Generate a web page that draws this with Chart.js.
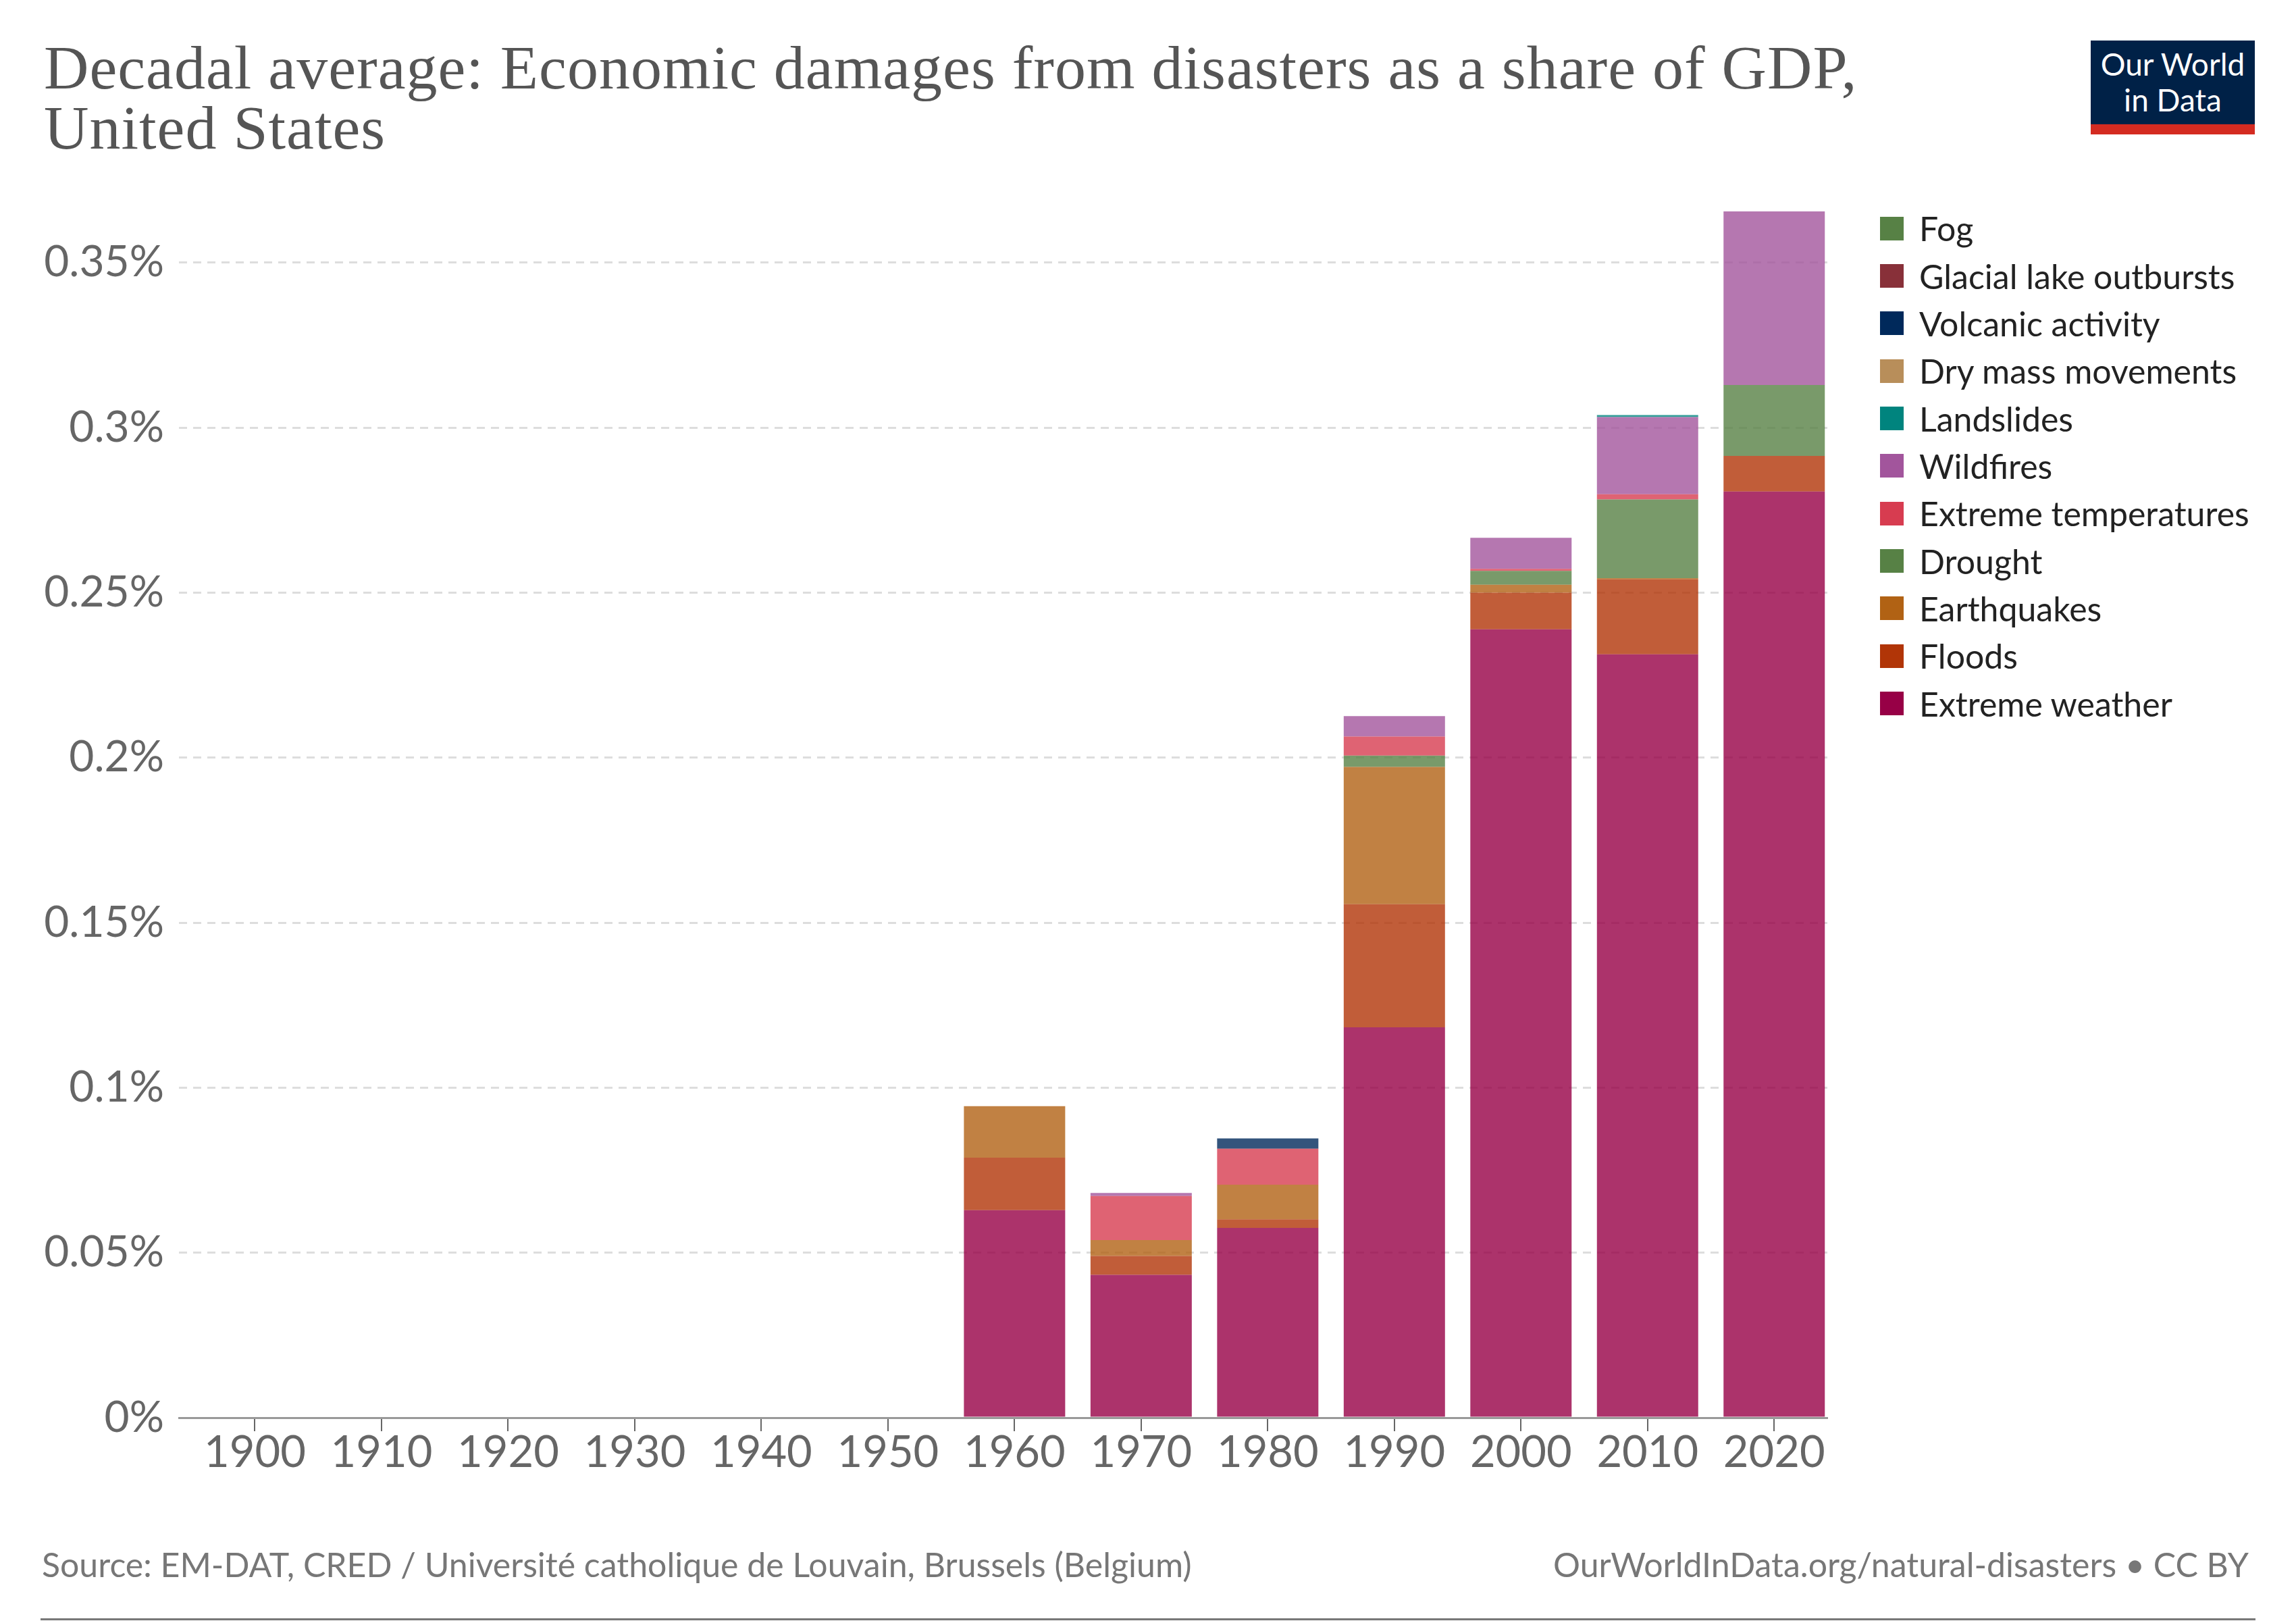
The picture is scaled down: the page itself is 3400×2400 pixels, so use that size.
<!DOCTYPE html>
<html>
<head>
<meta charset="utf-8">
<script src="https://cdn.jsdelivr.net/npm/chart.js@4.4.1/dist/chart.umd.min.js"></script>
<style>
  body { margin: 0; background: #fff; }
  #wrap { position: relative; width: 3400px; height: 2400px; background: #fff; font-family: Lato, sans-serif; }
  #chart { position: absolute; left: 0; top: 0; }
  .title { position: absolute; left: 65px; top: 56px; font-family: "Liberation Serif", serif; font-size: 92px; letter-spacing: 1px; line-height: 89px; color: #555; white-space: nowrap; }
  .logo { position: absolute; left: 3096px; top: 60px; width: 243px; background: #002147; color: #fff; text-align: center; font-size: 46px; line-height: 53px; padding-top: 8px; box-sizing: border-box; border-bottom: 15px solid #d42b21; height: 139px; }
  .legend { position: absolute; left: 2784px; top: 303px; }
  .legend-row { display: flex; align-items: center; height: 70.35px; font-size: 50px; color: #222; white-space: nowrap; }
  .legend-box { width: 35px; height: 35px; margin-right: 23px; }
  .source { position: absolute; left: 62px; top: 2286px; font-size: 50px; color: #777; white-space: nowrap; }
  .url { position: absolute; right: 70px; top: 2286px; font-size: 50px; color: #777; white-space: nowrap; }
  .rule { position: absolute; left: 60px; top: 2396px; width: 3280px; height: 3px; background: #777; }
</style>
</head>
<body>
<div id="wrap">
  <canvas id="chart" width="3400" height="2400"></canvas>
  <div class="title">Decadal average: Economic damages from disasters as a share of GDP,<br>United States</div>
  <div class="logo">Our World<br>in Data</div>
  <div class="legend" id="legend"></div>
  <div class="source">Source: EM-DAT, CRED / Université catholique de Louvain, Brussels (Belgium)</div>
  <div class="url">OurWorldInData.org/natural-disasters • CC BY</div>
  <div class="rule"></div>
</div>
<script>
// decades on the x axis
const years = [1900, 1910, 1920, 1930, 1940, 1950, 1960, 1970, 1980, 1990, 2000, 2010, 2020];
const xTickLabels = ['1900', '1910', '1920', '1930', '1940', '1950', '1960', '1970', '1980', '1990', '2000', '2010', '2020'];
const yTickValues = [0, 0.05, 0.1, 0.15, 0.2, 0.25, 0.3, 0.35];
const yTickLabels = ['0%', '0.05%', '0.1%', '0.15%', '0.2%', '0.25%', '0.3%', '0.35%'];

// damages as % of GDP, per decade
const extremeWeather = [0, 0, 0, 0, 0, 0, 0.0629, 0.0433, 0.0575, 0.1183, 0.2389, 0.2313, 0.2806];
const floods = [0, 0, 0, 0, 0, 0, 0.0159, 0.0057, 0.0026, 0.0373, 0.0111, 0.0227, 0.0108];
const earthquakes = [0, 0, 0, 0, 0, 0, 0.0156, 0.0048, 0.0105, 0.0416, 0.0024, 0.0004, 0];
const drought = [0, 0, 0, 0, 0, 0, 0, 0, 0, 0.0034, 0.0042, 0.0238, 0.0215];
const extremeTemperatures = [0, 0, 0, 0, 0, 0, 0, 0.0134, 0.0109, 0.0058, 0.0006, 0.0016, 0];
const wildfires = [0, 0, 0, 0, 0, 0, 0, 0.0009, 0, 0.0062, 0.0094, 0.0234, 0.0526];
const landslides = [0, 0, 0, 0, 0, 0, 0, 0, 0, 0, 0, 0.0006, 0];
const dryMassMovements = [0, 0, 0, 0, 0, 0, 0, 0, 0, 0, 0, 0, 0];
const volcanicActivity = [0, 0, 0, 0, 0, 0, 0, 0, 0.0031, 0, 0, 0, 0];
const glacialLakeOutbursts = [0, 0, 0, 0, 0, 0, 0, 0, 0, 0, 0, 0, 0];
const fog = [0, 0, 0, 0, 0, 0, 0, 0, 0, 0, 0, 0, 0];

// bottom of the stack first
const series = [
    { name: 'Extreme weather', color: '#970046', values: extremeWeather },
    { name: 'Floods', color: '#b13507', values: floods },
    { name: 'Earthquakes', color: '#b16214', values: earthquakes },
    { name: 'Drought', color: '#578145', values: drought },
    { name: 'Extreme temperatures', color: '#d73c50', values: extremeTemperatures },
    { name: 'Wildfires', color: '#a2559c', values: wildfires },
    { name: 'Landslides', color: '#00847e', values: landslides },
    { name: 'Dry mass movements', color: '#b88e5a', values: dryMassMovements },
    { name: 'Volcanic activity', color: '#00295b', values: volcanicActivity },
    { name: 'Glacial lake outbursts', color: '#883039', values: glacialLakeOutbursts },
    { name: 'Fog', color: '#578145', values: fog }
];

function withAlpha(hex, a) {
    const n = parseInt(hex.slice(1), 16);
    return `rgba(${(n >> 16) & 255}, ${(n >> 8) & 255}, ${n & 255}, ${a})`;
}

// legend, top entry = top of the stack
const legend = document.getElementById('legend');
series.slice().reverse().forEach(s => {
    const row = document.createElement('div');
    row.className = 'legend-row';
    row.innerHTML = `<div class="legend-box" style="background:${s.color}"></div><span>${s.name}</span>`;
    legend.appendChild(row);
});

const stackTops = years.map((y, i) => series.reduce((sum, s) => sum + s.values[i], 0));

Chart.defaults.font.family = 'Lato, sans-serif';

const ctx = document.getElementById('chart').getContext('2d');
new Chart(ctx, {
    type: 'bar',
    data: {
        datasets: series.map(s => ({
            label: s.name,
            data: years.map((yr, i) => ({ x: yr, y: s.values[i] })),
            backgroundColor: withAlpha(s.color, 0.8),
            borderWidth: 0,
            barPercentage: 0.8,
            categoryPercentage: 1
        }))
    },
    options: {
        responsive: false,
        animation: false,
        devicePixelRatio: 1,
        layout: { padding: { top: 313, left: 60, right: 694, bottom: 201 } },
        plugins: {
            legend: { display: false },
            tooltip: { enabled: false }
        },
        scales: {
            x: {
                type: 'linear',
                stacked: true,
                offset: false,
                min: 1894,
                max: 2024.2,
                afterBuildTicks: scale => { scale.ticks = years.map(v => ({ value: v })); },
                afterFit: scale => { scale.height = 100; },
                ticks: {
                    callback: (v, i) => xTickLabels[i],
                    color: '#666',
                    font: { size: 65, lineHeight: 1 },
                    padding: 0,
                    maxRotation: 0,
                    autoSkip: false
                },
                grid: { offset: false, drawOnChartArea: false, drawTicks: true, tickLength: 20, color: '#666', lineWidth: 2 },
                border: { display: true, color: '#999', width: 3 }
            },
            y: {
                stacked: true,
                min: 0,
                max: Math.max(...stackTops),
                afterBuildTicks: scale => { scale.ticks = yTickValues.map(v => ({ value: v })); },
                afterFit: scale => { scale.width = 205; },
                ticks: {
                    callback: (v, i) => yTickLabels[i],
                    color: '#666',
                    font: { size: 64 },
                    padding: 22
                },
                grid: {
                    drawTicks: false,
                    lineWidth: 3,
                    color: c => (c.tick && c.tick.value === 0) ? 'rgba(0,0,0,0)' : '#ddd'
                },
                border: { display: false, dash: [12, 9] }
            }
        }
    }
});
</script>
</body>
</html>
